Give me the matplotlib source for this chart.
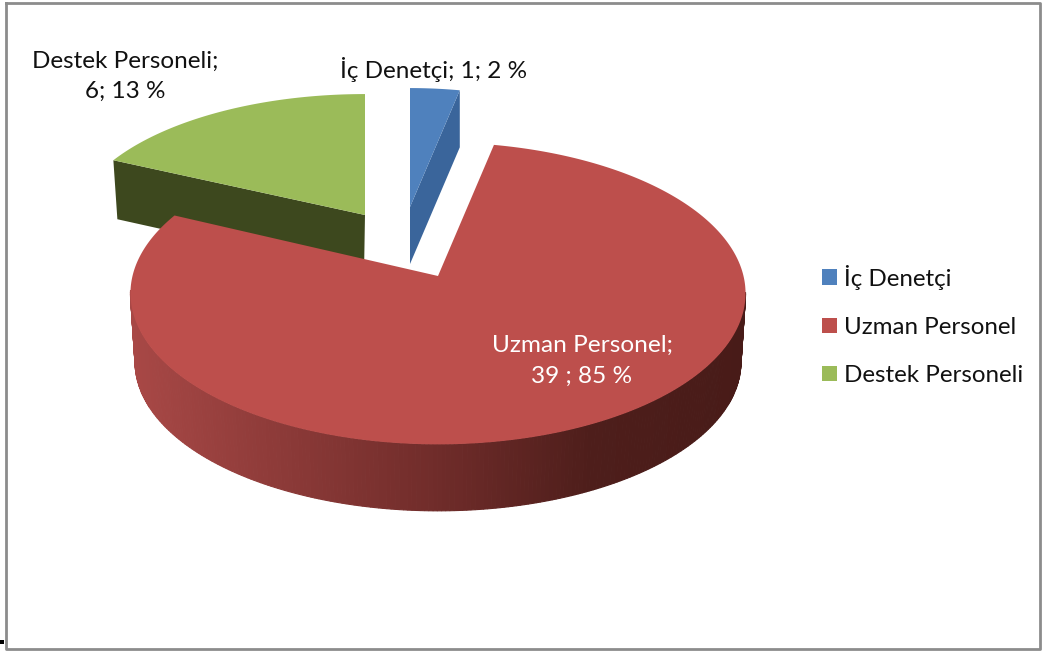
import numpy as np
import matplotlib
matplotlib.use('Agg')
import matplotlib.pyplot as plt
from matplotlib.patches import Patch

names = ['İç Denetçi', 'Uzman Personel', 'Destek Personeli']
counts = [1, 39, 6]
face_colors = ['#4f81bd', '#bd4f4c', '#9bbb59']
side_colors = ['#3a659b', '#8a3a38', '#3d481e']

plt.rcParams['font.family'] = ['Lato', 'DejaVu Sans']

# perspective of the disc, in pixels
A, B, K = 305.5, 149.0, 0.115
apexes = [(410, 207), (438, 276), (365, 215)]
scales_x = [0.89, 1.0, 0.955]
scales_y = [0.89, 1.0, 0.905]
depths = [57, 69, 59]
start_angle = 0.0
warp = 29.0


def bend(t):
    # excel squeezes the back of the pie, boundaries have to follow
    r = np.radians(t)
    return t + warp * np.sin(r) * (1 + np.cos(r)) / 2


def project(t, apex, sx, sy):
    t = np.radians(t)
    w = 1 + K * np.cos(t)
    return apex[0] + sx * A * np.sin(t) / w, apex[1] - sy * B * np.cos(t) / w


def wall_color(x):
    f = (x - 131) / (746 - 131)
    r = np.interp(f, [0, 0.25, 0.5, 0.75, 1], [168, 140, 112, 78, 72])
    g = np.interp(f, [0, 0.25, 0.5, 0.75, 1], [72, 58, 44, 30, 27])
    b = np.interp(f, [0, 0.25, 0.5, 0.75, 1], [70, 56, 42, 27, 24])
    return (r / 255, g / 255, b / 255)


fig = plt.figure(figsize=(10.45, 6.51), dpi=100)
ax = fig.add_axes([0, 0, 1, 1])
ax.set_xlim(0, 1045)
ax.set_ylim(651, 0)
ax.axis('off')

shares = np.array(counts) / sum(counts) * 360
edges = start_angle + np.concatenate([[0], np.cumsum(shares)])
starts = bend(edges[:-1])
ends = bend(edges[1:])
pct = np.round(np.array(counts) / sum(counts) * 100).astype(int)

# red outer wall first, the other slices sit behind its top face
ts = np.linspace(starts[1], ends[1], 400)
red_x, red_y = project(ts, apexes[1], scales_x[1], scales_y[1])
bx, by = project(ts, apexes[1], scales_x[1] * 0.985, scales_y[1] * 0.985)
by = by + depths[1]
for i in range(len(ts) - 1):
    if np.cos(np.radians(ts[i])) > -0.1:
        continue
    c = wall_color(red_x[i])
    ax.fill([red_x[i], red_x[i + 1], bx[i + 1], bx[i]],
            [red_y[i], red_y[i + 1], by[i + 1], by[i]], color=c, lw=0.8, zorder=1)

# blue: cut face on the right
x, y = project(np.linspace(starts[0], ends[0], 30), apexes[0], scales_x[0], scales_y[0])
ax.fill([apexes[0][0], x[-1], x[-1], apexes[0][0]],
        [apexes[0][1], y[-1], y[-1] + depths[0], apexes[0][1] + depths[0]],
        color=side_colors[0], lw=0, zorder=2)
ax.fill(np.r_[apexes[0][0], x], np.r_[apexes[0][1], y], color=face_colors[0], lw=0, zorder=3)

# green: cut face at the front
x, y = project(np.linspace(starts[2], ends[2], 80), apexes[2], scales_x[2], scales_y[2])
ax.fill([x[0], apexes[2][0], apexes[2][0] - 1, x[0] + 4],
        [y[0], apexes[2][1], apexes[2][1] + depths[2], y[0] + depths[2]],
        color=side_colors[2], lw=0, zorder=2)
ax.fill(np.r_[apexes[2][0], x], np.r_[apexes[2][1], y], color=face_colors[2], lw=0, zorder=3)

# red top face
ax.fill(np.r_[apexes[1][0], red_x], np.r_[apexes[1][1], red_y], color=face_colors[1], lw=0, zorder=4)

ax.text(125, 76, f'{names[2]};\n{counts[2]}; {pct[2]} %', ha='center', va='center',
        fontsize=17.5, color='#111111', linespacing=1.53, zorder=5)
ax.text(433.5, 69, f'{names[0]}; {counts[0]}; {pct[0]} %', ha='center', va='center',
        fontsize=17.5, color='#111111', zorder=5)
ax.text(582, 361, f'{names[1]};\n{counts[1]} ; {pct[1]} %', ha='center', va='center',
        fontsize=17.6, color='white', linespacing=1.55, zorder=5)

handles = [Patch(facecolor=c, edgecolor='none', label=n) for c, n in zip(face_colors, names)]
ax.legend(handles=handles, loc='upper left', bbox_to_anchor=(814.7, 257.5), bbox_transform=ax.transData,
          frameon=False, fontsize=17.4, handlelength=0.62, handleheight=0.62, handletextpad=0.29,
          labelspacing=1.126, borderpad=0.3, borderaxespad=0, labelcolor='#111111')

# frame of the pasted picture and the stray full stop left of it
ax.plot([6, 1040, 1040, 6, 6], [3, 3, 649, 649, 3], color='#8c8c8c', lw=2.0, zorder=6)
ax.plot([1.5], [641.5], 's', color='black', ms=2.6, mew=0, zorder=6)

plt.savefig('out.png', dpi=100)
